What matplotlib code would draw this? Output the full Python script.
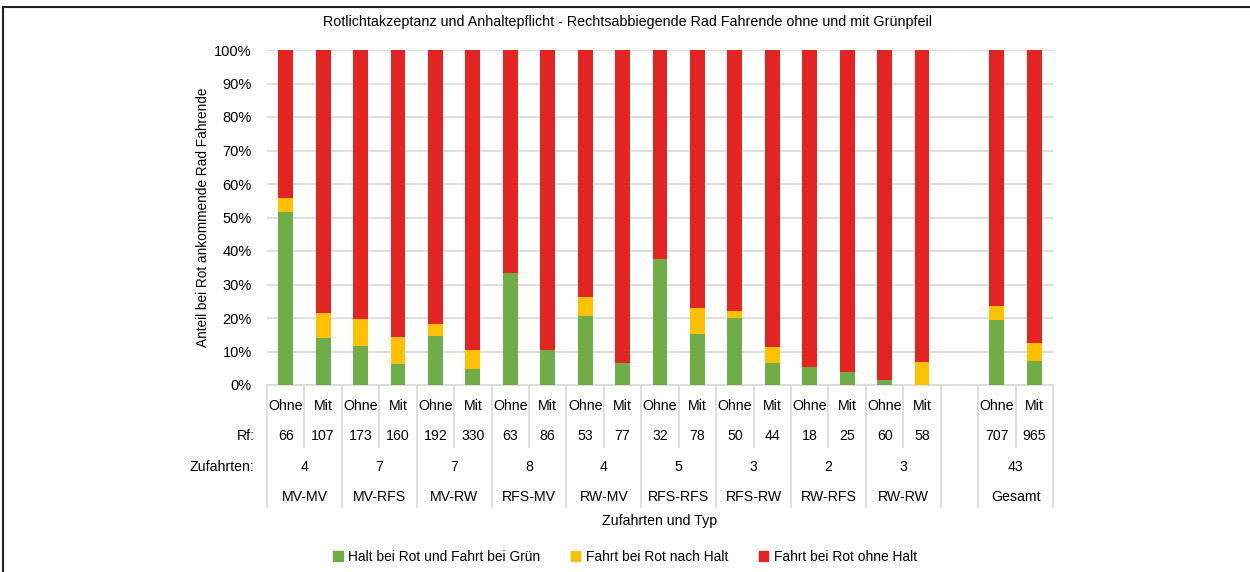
import numpy as np
import matplotlib
matplotlib.use("Agg")
import matplotlib.pyplot as plt
from matplotlib.transforms import blended_transform_factory
from matplotlib.patches import Patch
from matplotlib.lines import Line2D

plt.rcParams['font.family'] = ['Liberation Sans', 'DejaVu Sans']

# data (percent), one entry per bar: Ohne/Mit pairs per type, then Gesamt
typ = ["MV-MV", "MV-RFS", "MV-RW", "RFS-MV", "RW-MV", "RFS-RFS", "RFS-RW", "RW-RFS", "RW-RW", "", "Gesamt"]
zufahrten = ["4", "7", "7", "8", "4", "5", "3", "2", "3", "", "43"]
variante = ["Ohne", "Mit"]
rf = [66, 107, 173, 160, 192, 330, 63, 86, 53, 77, 32, 78, 50, 44, 18, 25, 60, 58, 707, 965]
halt_gruen = [51.6, 13.9, 11.5, 6.2, 14.5, 4.7, 33.4, 10.5, 20.7, 6.5,
              37.6, 15.3, 19.9, 6.7, 5.5, 3.9, 1.6, 0.0, 19.5, 7.3]
rot_nach_halt = [4.2, 7.6, 8.2, 8.2, 3.7, 5.6, 0.0, 0.0, 5.7, 0.0,
                 0.0, 7.8, 2.1, 4.7, 0.0, 0.0, 0.0, 6.9, 4.0, 5.3]
rot_ohne_halt = [100 - g - y for g, y in zip(halt_gruen, rot_nach_halt)]

c_green = '#70AD47'
c_yellow = '#FFC000'
c_red = '#E42421'
grid_c = '#D9D9D9'
fs = 10.2

W, H = 1250, 572
fig = plt.figure(figsize=(12.5, 5.72), dpi=100)
ax = fig.add_axes([267 / W, 1 - 385 / H, (1053 - 267) / W, (385 - 50) / H])

# bar slots: 9 groups * 2, one empty slot, then Gesamt
slots = list(range(18)) + [19, 20]
x = np.array(slots) + 0.5
bw = 0.4
ax.bar(x, halt_gruen, bw, color=c_green, zorder=3)
ax.bar(x, rot_nach_halt, bw, bottom=halt_gruen, color=c_yellow, zorder=3)
ax.bar(x, rot_ohne_halt, bw, bottom=np.array(halt_gruen) + np.array(rot_nach_halt), color=c_red, zorder=3)

ax.set_xlim(0, 21)
ax.set_ylim(0, 100)
ax.set_yticks(np.arange(0, 101, 10))
ax.set_yticklabels([f"{v}%" for v in range(0, 101, 10)], fontsize=fs + 0.3)
ax.set_xticks([])
ax.yaxis.grid(True, color=grid_c, lw=1.2, zorder=0)
ax.tick_params(axis='y', length=0, pad=11)
for s in ['top', 'right', 'left']:
    ax.spines[s].set_visible(False)
ax.spines['bottom'].set_color(grid_c)
ax.spines['bottom'].set_linewidth(1.2)

ax.yaxis.set_label_coords((203 - 267) / (1053 - 267), 0.5)
ax.set_ylabel("Anteil bei Rot ankommende Rad Fahrende", fontsize=fs - 0.4, va='center')

# category table below the axis
tr = blended_transform_factory(ax.transData, fig.transFigure)
def fy(px):
    return 1 - px / H

for i, s in enumerate(slots):
    ax.text(s + 0.5, fy(406), variante[i % 2], transform=tr, ha='center', va='center', fontsize=fs)
    ax.text(s + 0.5, fy(436), str(rf[i]), transform=tr, ha='center', va='center', fontsize=fs)

for g in range(len(typ)):
    left = 2 * g if g < 10 else 19
    width = 1 if g == 9 else 2
    cx = left + width / 2
    if typ[g]:
        ax.text(cx, fy(467), zufahrten[g], transform=tr, ha='center', va='center', fontsize=fs)
        ax.text(cx, fy(497), typ[g], transform=tr, ha='center', va='center', fontsize=fs)

# separators
group_edges = [0, 2, 4, 6, 8, 10, 12, 14, 16, 18, 19, 21]
for e in group_edges:
    fig.add_artist(Line2D([e, e], [fy(385), fy(507)], transform=tr, color=grid_c, lw=1.2))
for e in list(range(1, 18, 2)) + [20]:
    fig.add_artist(Line2D([e, e], [fy(385), fy(447)], transform=tr, color=grid_c, lw=1.2))

fig.text(255 / W, fy(436), "Rf:", ha='right', va='center', fontsize=fs)
fig.text(254 / W, fy(467), "Zufahrten:", ha='right', va='center', fontsize=fs)
fig.text(660 / W, fy(521), "Zufahrten und Typ", ha='center', va='center', fontsize=fs)

fig.text(627 / W, fy(22), "Rotlichtakzeptanz und Anhaltepflicht - Rechtsabbiegende Rad Fahrende ohne und mit Grünpfeil",
         ha='center', va='center', fontsize=10.3)

handles = [Patch(color=c_green), Patch(color=c_yellow), Patch(color=c_red)]
labels = ["Halt bei Rot und Fahrt bei Grün", "Fahrt bei Rot nach Halt", "Fahrt bei Rot ohne Halt"]
fig.legend(handles, labels, loc='center', bbox_to_anchor=(625 / W, fy(557)), ncol=3, frameon=False,
           fontsize=9.9, handlelength=0.7, handleheight=0.7, handletextpad=0.4, columnspacing=2.2)

# outer frame (top and left visible)
fig.add_artist(Line2D([3 / W, 1], [fy(7), fy(7)], transform=fig.transFigure, color='#222222', lw=1.5))
fig.add_artist(Line2D([3 / W, 3 / W], [fy(7), 0], transform=fig.transFigure, color='#222222', lw=1.5))

fig.savefig("out.png", dpi=100)
